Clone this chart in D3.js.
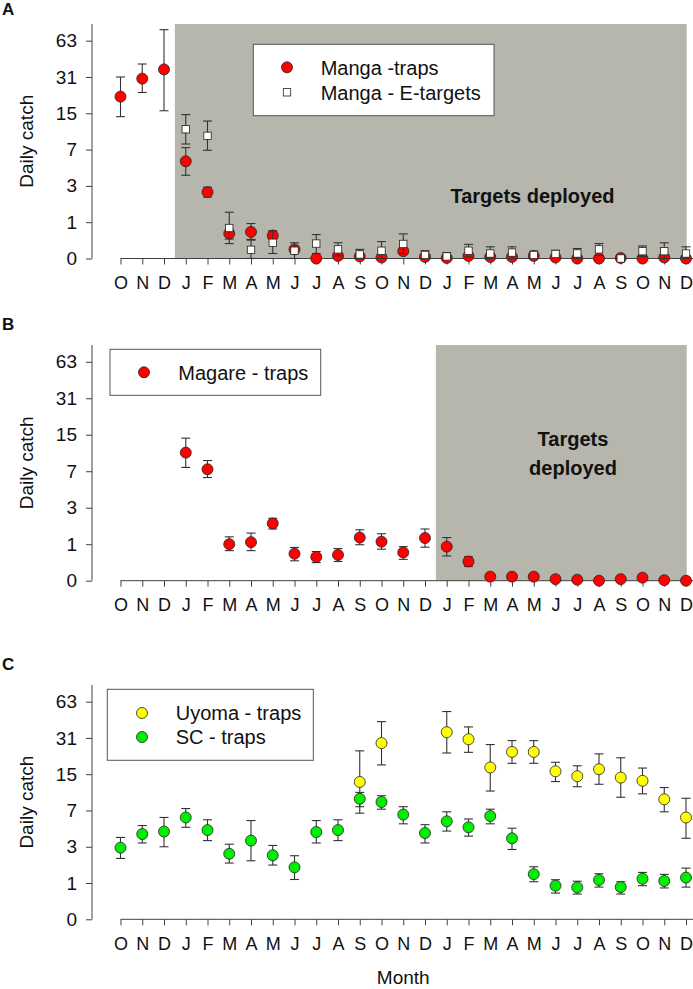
<!DOCTYPE html>
<html>
<head>
<meta charset="utf-8">
<script src="https://cdn.jsdelivr.net/npm/d3@7"></script>
<style>
  body { margin: 0; background: #fff; }
  svg { display: block; font-family: "Liberation Sans", Arial, sans-serif; }
</style>
</head>
<body>
<svg id="chart" width="693" height="989"></svg>
<script>
// Months, Oct through Dec two years later
const months = ["O","N","D","J","F","M","A","M","J","J","A","S","O","N","D","J","F","M","A","M","J","J","A","S","O","N","D"];
const yTicks = [0, 1, 3, 7, 15, 31, 63];

// Panel A - Manga
const mangaTraps   = [21, 30, 36, 5.4, 2.55, 0.61, 0.66, 0.55, 0.19, 0, 0.05, 0.04, 0.02, 0.15, 0.03, 0.01, 0.05, 0.03, 0.03, 0.05, 0.02, 0, 0, 0.01, 0, 0.02, 0];
const mangaTrapsHi = [31, 40, 78, 7.3, 2.9, 0.75, 0.95, 0.69, 0.26, 0, 0.1, 0.06, 0.04, 0.2, 0.05, 0.02, 0.07, 0.05, 0.05, 0.07, 0.03, 0, 0, 0.02, 0, 0.03, 0];
const mangaTrapsLo = [14, 22.8, 15.8, 3.9, 2.23, 0.45, 0.44, 0.45, 0.12, 0, 0.02, 0.02, 0, 0.1, 0.01, 0, 0.03, 0.01, 0.01, 0.03, 0.01, 0, 0, 0, 0, 0.01, 0];
const mangaTargets   = [null, null, null, 10.8, 9.4, 0.79, 0.18, 0.35, 0.16, 0.33, 0.19, 0.08, 0.16, 0.32, 0.07, 0.04, 0.16, 0.1, 0.12, 0.07, 0.09, 0.1, 0.19, 0, 0.15, 0.15, 0.1];
const mangaTargetsHi = [null, null, null, 14.6, 12.8, 1.42, 0.42, 0.69, 0.35, 0.58, 0.35, 0.19, 0.38, 0.6, 0.16, 0.12, 0.31, 0.25, 0.25, 0.15, 0.17, 0.21, 0.33, 0.02, 0.27, 0.35, 0.25];
const mangaTargetsLo = [null, null, null, 7.9, 6.9, 0.33, 0, 0.1, 0, 0.1, 0.05, 0, 0, 0.1, 0, 0, 0.03, 0, 0, 0, 0.02, 0, 0.06, 0, 0.04, 0, 0];

// Panel B - Magare
const magareTraps   = [null, null, null, 10.4, 7.3, 1.0, 1.08, 1.97, 0.67, 0.57, 0.63, 1.27, 1.1, 0.71, 1.25, 0.91, 0.44, 0.08, 0.08, 0.08, 0.03, 0.02, 0, 0.03, 0.06, 0.01, 0];
const magareTrapsHi = [null, null, null, 14, 8.8, 1.3, 1.47, 2.27, 0.88, 0.74, 0.84, 1.63, 1.44, 0.91, 1.67, 1.27, 0.58, 0.08, 0.08, 0.08, 0.03, 0.02, 0, 0.03, 0.06, 0.01, 0];
const magareTrapsLo = [null, null, null, 7.6, 6.1, 0.77, 0.77, 1.67, 0.46, 0.41, 0.44, 0.98, 0.82, 0.5, 0.89, 0.6, 0.31, 0.08, 0.08, 0.08, 0.03, 0.02, 0, 0.03, 0.06, 0.01, 0];

// Panel C - Uyoma and SC
const uyomaTraps   = [null, null, null, null, null, null, null, null, null, null, null, 12.8, 28, null, null, 34.7, 30.2, 17.2, 23.5, 23.5, 15.9, 14.4, 16.6, 14, 13.1, 8.9, 6.0];
const uyomaTrapsHi = [null, null, null, null, null, null, null, null, null, null, null, 24, 42.7, null, null, 52, 38.5, 27.2, 29.4, 29.4, 19.1, 17.8, 22.6, 20.9, 17, 11.4, 9.1];
const uyomaTrapsLo = [null, null, null, null, null, null, null, null, null, null, null, 6.6, 18.1, null, null, 23, 23.3, 10.6, 18.7, 18.7, 12.9, 11.6, 12.2, 9.3, 10, 6.8, 3.7];
const scTraps   = [2.93, 4.1, 4.35, 6.0, 4.5, 2.5, 3.5, 2.4, 1.7, 4.3, 4.5, 9.0, 8.4, 6.4, 4.2, 5.5, 4.8, 6.2, 3.7, 1.37, 0.9, 0.84, 1.12, 0.85, 1.17, 1.08, 1.22];
const scTrapsHi = [3.78, 5.0, 6.0, 7.3, 5.7, 3.2, 5.6, 3.1, 2.37, 5.6, 5.7, 10.3, 9.6, 7.6, 5.1, 6.8, 5.8, 7.2, 4.7, 1.73, 1.13, 1.07, 1.39, 1.05, 1.45, 1.36, 1.66];
const scTrapsLo = [2.2, 3.3, 3.0, 4.8, 3.5, 1.93, 2.06, 1.82, 1.14, 3.3, 3.5, 7.6, 7.2, 5.2, 3.3, 4.4, 3.9, 5.2, 2.8, 1.05, 0.65, 0.62, 0.85, 0.62, 0.9, 0.82, 0.85];

const svg = d3.select("#chart");
const shade = "#b6b6ac";
const axisColor = "#404040";

const x = d3.scalePoint().domain(d3.range(months.length)).range([120.5, 686]);

const panels = [
    {
        label: "A", top: 24, bottom: 258.5, shadeFrom: 2.5,
        series: [
            { mean: mangaTraps, hi: mangaTrapsHi, lo: mangaTrapsLo, shape: "circle", fill: "#ff0000", name: "Manga -traps" },
            { mean: mangaTargets, hi: mangaTargetsHi, lo: mangaTargetsLo, shape: "square", fill: "#ffffff", name: "Manga - E-targets" }
        ],
        legend: { x: 253.3, y: 44.3, w: 240.7, h: 71.4, mx: 287, my: [67.3, 92.3], tx: 320.7 },
        note: { x: 532.5, y: [203.3] , lines: ["Targets deployed"] }
    },
    {
        label: "B", top: 345, bottom: 580.7, shadeFrom: 14.5,
        series: [
            { mean: magareTraps, hi: magareTrapsHi, lo: magareTrapsLo, shape: "circle", fill: "#ff0000", name: "Magare - traps" }
        ],
        legend: { x: 110, y: 349.3, w: 210.7, h: 46, mx: 144, my: [372.3], tx: 178.3 },
        note: { x: 573, y: [446, 475], lines: ["Targets", "deployed"] }
    },
    {
        label: "C", top: 685, bottom: 919.3, shadeFrom: null,
        series: [
            { mean: uyomaTraps, hi: uyomaTrapsHi, lo: uyomaTrapsLo, shape: "circle", fill: "#ffff00", name: "Uyoma - traps" },
            { mean: scTraps, hi: scTrapsHi, lo: scTrapsLo, shape: "circle", fill: "#00ee00", name: "SC - traps" }
        ],
        legend: { x: 107.3, y: 689.3, w: 206, h: 71, mx: 142, my: [713, 737], tx: 175.7 },
        note: null
    }
];

panels.forEach(p => {
    // log(y+1) axis
    const y = d3.scaleSymlog().constant(1).domain([0, 87]).range([p.bottom, p.top]);
    const g = svg.append("g");

    if (p.shadeFrom !== null) {
        const x0 = (x(Math.floor(p.shadeFrom)) + x(Math.ceil(p.shadeFrom))) / 2;
        g.append("rect")
            .attr("x", x0)
            .attr("y", p.top)
            .attr("width", x(months.length - 1) + 0.7 - x0)
            .attr("height", p.bottom - p.top)
            .attr("fill", shade);
    }

    // y axis
    const yAxis = g.append("g")
        .attr("transform", "translate(92,0)")
        .call(d3.axisLeft(y).tickValues(yTicks).tickFormat(d3.format("d")).tickSize(6).tickPadding(9).tickSizeOuter(0));
    yAxis.select(".domain").attr("stroke", axisColor).attr("d", `M0,${p.top}V${p.bottom}`);
    yAxis.selectAll(".tick line").attr("stroke", axisColor);
    yAxis.selectAll(".tick text")
        .attr("font-size", "19px")
        .attr("font-family", "Liberation Sans, Arial, sans-serif")
        .attr("fill", "#111");

    // x axis
    const xAxis = g.append("g")
        .attr("transform", `translate(0,${p.bottom})`)
        .call(d3.axisBottom(x).tickFormat(i => months[i]).tickSize(6).tickPadding(12).tickSizeOuter(0));
    xAxis.select(".domain").attr("stroke", axisColor).attr("d", `M${x(0)},0H693`);
    xAxis.selectAll(".tick line").attr("stroke", axisColor);
    xAxis.selectAll(".tick text")
        .attr("font-size", "18px")
        .attr("font-family", "Liberation Sans, Arial, sans-serif")
        .attr("fill", "#111")
        .attr("dy", "0.71em");

    g.append("text")
        .attr("transform", `translate(33,${(p.top + p.bottom) / 2}) rotate(-90)`)
        .attr("text-anchor", "middle")
        .attr("font-size", "19px")
        .attr("fill", "#111")
        .text("Daily catch");

    g.append("text")
        .attr("x", 2)
        .attr("y", p.top - (p.label === "A" ? 9 : 15))
        .attr("font-size", "17px")
        .attr("font-weight", "bold")
        .attr("fill", "#111")
        .text(p.label);

    if (p.note) {
        p.note.lines.forEach((line, i) => {
            g.append("text")
                .attr("x", p.note.x)
                .attr("y", p.note.y[i])
                .attr("text-anchor", "middle")
                .attr("font-size", "20px")
                .attr("font-weight", "bold")
                .attr("fill", "#111")
                .text(line);
        });
    }

    // error bars then markers
    p.series.forEach(s => {
        const idx = d3.range(months.length).filter(i => s.mean[i] !== null);
        const bars = g.append("g").attr("stroke", "#333").attr("stroke-width", 1.1);
        idx.filter(i => s.hi[i] > s.lo[i]).forEach(i => {
            const cx = x(i);
            bars.append("line").attr("x1", cx).attr("x2", cx).attr("y1", y(s.hi[i])).attr("y2", y(s.lo[i]));
            [s.hi[i], s.lo[i]].forEach(v => {
                bars.append("line").attr("x1", cx - 4.5).attr("x2", cx + 4.5).attr("y1", y(v)).attr("y2", y(v));
            });
        });

        idx.forEach(i => {
            if (s.shape === "circle") {
                g.append("circle")
                    .attr("cx", x(i))
                    .attr("cy", y(s.mean[i]))
                    .attr("r", 5.5)
                    .attr("fill", s.fill)
                    .attr("stroke", "#222")
                    .attr("stroke-width", 0.8);
            } else {
                g.append("rect")
                    .attr("x", x(i) - 3.7)
                    .attr("y", y(s.mean[i]) - 3.7)
                    .attr("width", 7.4)
                    .attr("height", 7.4)
                    .attr("fill", s.fill)
                    .attr("stroke", "#222")
                    .attr("stroke-width", 0.8);
            }
        });
    });

    // legend
    const L = p.legend;
    g.append("rect")
        .attr("x", L.x).attr("y", L.y)
        .attr("width", L.w).attr("height", L.h)
        .attr("fill", "#fff")
        .attr("stroke", "#555")
        .attr("stroke-width", 1);
    p.series.forEach((s, i) => {
        if (s.shape === "circle") {
            g.append("circle").attr("cx", L.mx).attr("cy", L.my[i]).attr("r", 5.5)
                .attr("fill", s.fill).attr("stroke", "#222").attr("stroke-width", 0.8);
        } else {
            g.append("rect").attr("x", L.mx - 3.7).attr("y", L.my[i] - 3.7).attr("width", 7.4).attr("height", 7.4)
                .attr("fill", s.fill).attr("stroke", "#222").attr("stroke-width", 0.8);
        }
        g.append("text")
            .attr("x", L.tx)
            .attr("y", L.my[i])
            .attr("dy", "0.36em")
            .attr("font-size", "20px")
            .attr("fill", "#111")
            .text(s.name);
    });
});

svg.append("text")
    .attr("x", (x(0) + x(months.length - 1)) / 2)
    .attr("y", 984)
    .attr("text-anchor", "middle")
    .attr("font-size", "19px")
    .attr("fill", "#111")
    .text("Month");
</script>
</body>
</html>
